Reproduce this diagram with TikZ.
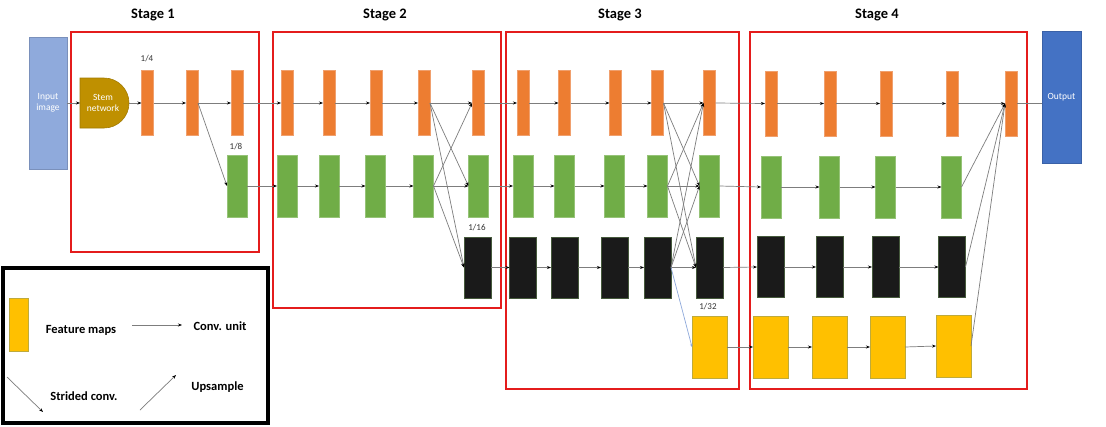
\documentclass[tikz,border=0pt]{standalone}
\usepackage{fontspec}
\setmainfont{Carlito}
\usetikzlibrary{arrows.meta}
\definecolor{orangeC}{RGB}{237,125,49}
\definecolor{orangeD}{RGB}{240,160,110}
\definecolor{greenC}{RGB}{112,173,71}
\definecolor{greenD}{RGB}{150,195,120}
\definecolor{blackC}{RGB}{26,26,26}
\definecolor{blackD}{RGB}{70,90,60}
\definecolor{yellowC}{RGB}{255,192,0}
\definecolor{yellowD}{RGB}{190,170,60}
\definecolor{inputC}{RGB}{143,170,220}
\definecolor{outC}{RGB}{68,114,196}
\definecolor{stemC}{RGB}{191,144,0}
\definecolor{stageR}{RGB}{228,28,28}
\definecolor{lineC}{RGB}{125,125,125}
\definecolor{blueL}{RGB}{142,169,219}
\begin{document}
\begin{tikzpicture}[x=1pt,y=-1pt,
  fmap/.style={inner sep=0pt, outer sep=0pt, line width=0.6pt},
  ob/.style={fmap, fill=orangeC, draw=orangeD, minimum width=12pt, minimum height=65pt},
  gb/.style={fmap, fill=greenC, draw=greenD, minimum width=20pt, minimum height=62pt},
  bb/.style={fmap, fill=blackC, draw=blackD, minimum width=27pt, minimum height=61pt},
  yb/.style={fmap, fill=yellowC, draw=yellowD, minimum width=35pt, minimum height=62pt},
  stagebox/.style={draw=stageR, line width=1.5pt},
  stagetitle/.style={font=\fontsize{14.5}{17}\selectfont\bfseries},
  ratio/.style={font=\fontsize{9}{11}\selectfont, text=black!80},
  conn/.style={draw=lineC, line width=0.7pt, -{Stealth[length=4pt,width=3pt,color=black]}},
  plain/.style={draw=lineC, line width=0.7pt},
  legtext/.style={font=\fontsize{12.5}{15}\selectfont\bfseries},
  whitetext/.style={font=\fontsize{9.5}{11.5}\selectfont, text=white, align=center}
]
\useasboundingbox (0,0) rectangle (1106,426);
\fill[white] (0,0) rectangle (1106,426);

% stage boxes
\draw[stagebox] (71,32) rectangle (259,252);
\draw[stagebox] (273,32) rectangle (501,308);
\draw[stagebox] (506,32) rectangle (739,389);
\draw[stagebox] (750,32) rectangle (1027,389);
\node[stagetitle] (t1) at (153,15) {Stage 1};
\node[stagetitle] (t2) at (385,15) {Stage 2};
\node[stagetitle] (t3) at (620,15) {Stage 3};
\node[stagetitle] (t4) at (877,15) {Stage 4};

% input, stem, output
\node[fmap, fill=inputC, draw=inputC!85!black, minimum width=38pt, minimum height=132pt] (inp) at (48,103) {};
\node[whitetext] (inpt) at (48,103) {Input\\image};
\fill[stemC, draw=stemC!85!black, line width=0.6pt] (80,78) -- (104,78) arc[start angle=-90, end angle=90, radius=25] -- (80,128) -- cycle;
\node[inner sep=0pt, outer sep=0pt, minimum width=49pt, minimum height=50pt] (stem) at (104.5,103) {};
\node[whitetext] (stemt) at (103,103) {Stem\\network};
\node[fmap, fill=outC, draw=outC!85!black, minimum width=39pt, minimum height=132pt] (out) at (1061.5,97) {};
\node[whitetext] (outt) at (1061.5,97) {Output};

% stage 1
\node[ob] (o1a) at (147.5,103) {};
\node[ob] (o1b) at (192,103) {};
\node[ob] (o1c) at (237,103) {};
\node[gb] (g1) at (237,186) {};
\node[ratio] (r4) at (147,59) {1/4};
\node[ratio] (r8) at (236,147) {1/8};

% stage 2
\node[ob] (o2a) at (287,103) {};
\node[ob] (o2b) at (329,103) {};
\node[ob] (o2c) at (376,103) {};
\node[ob] (o2d) at (424,103) {};
\node[ob] (o2e) at (478,103) {};
\node[gb] (g2a) at (287,186) {};
\node[gb] (g2b) at (329,186) {};
\node[gb] (g2c) at (375.5,186) {};
\node[gb] (g2d) at (423.5,186) {};
\node[gb] (g2e) at (478.5,186) {};
\node[bb] (b2) at (477.5,267.5) {};
\node[ratio] (r16) at (477,228) {1/16};

% stage 3
\node[ob] (o3a) at (523,103) {};
\node[ob] (o3b) at (564.5,103) {};
\node[ob] (o3c) at (615.5,103) {};
\node[ob] (o3d) at (657.5,103) {};
\node[ob] (o3e) at (709.5,103) {};
\node[gb] (g3a) at (523,186) {};
\node[gb] (g3b) at (564.5,186) {};
\node[gb] (g3c) at (614.5,186) {};
\node[gb] (g3d) at (657.5,186) {};
\node[gb] (g3e) at (709.5,186) {};
\node[bb] (b3a) at (523,267.5) {};
\node[bb] (b3b) at (564.5,267.5) {};
\node[bb] (b3c) at (614.5,267.5) {};
\node[bb] (b3d) at (657.5,267.5) {};
\node[bb] (b3e) at (709.5,267.5) {};
\node[yb] (y3) at (709.5,347) {};
\node[ratio] (r32) at (708,307) {1/32};

% stage 4
\node[ob] (o4a) at (771,103.5) {};
\node[ob] (o4b) at (830,103.5) {};
\node[ob] (o4c) at (886,103.5) {};
\node[ob] (o4d) at (952,103.5) {};
\node[ob] (o4e) at (1011,103.5) {};
\node[gb] (g4a) at (771,187) {};
\node[gb] (g4b) at (829.5,187) {};
\node[gb] (g4c) at (885.5,187) {};
\node[gb] (g4d) at (951.5,187) {};
\node[bb] (b4a) at (770.5,267) {};
\node[bb] (b4b) at (829.5,267) {};
\node[bb] (b4c) at (885.5,267) {};
\node[bb] (b4d) at (952,267) {};
\node[yb] (y4a) at (770.5,347) {};
\node[yb] (y4b) at (829.5,347) {};
\node[yb] (y4c) at (887.5,347) {};
\node[yb] (y4d) at (953.5,346) {};

% connectors stage 1
\draw[conn] (inp.east) -- (stem.west);
\draw[conn] (stem.east) -- (o1a.west);
\draw[conn] (o1a.east) -- (o1b.west);
\draw[conn] (o1b.east) -- (o1c.west);
\draw[conn] (o1b.east) -- (g1.west);
\draw[conn] (o1c.east) -- (o2a.west);
\draw[conn] (g1.east) -- (g2a.west);

% stage 2
\draw[conn] (o2a.east) -- (o2b.west);
\draw[conn] (o2b.east) -- (o2c.west);
\draw[conn] (o2c.east) -- (o2d.west);
\draw[conn] (o2d.east) -- (o2e.west);
\draw[conn] (g2a.east) -- (g2b.west);
\draw[conn] (g2b.east) -- (g2c.west);
\draw[conn] (g2c.east) -- (g2d.west);
\draw[conn] (g2d.east) -- (g2e.west);
\draw[conn] (o2d.east) -- (g2e.west);
\draw[conn] (o2d.east) -- (b2.west);
\draw[conn] (g2d.east) -- (o2e.west);
\draw[conn] (g2d.east) -- (b2.west);
\draw[conn] (o2e.east) -- (o3a.west);
\draw[conn] (g2e.east) -- (g3a.west);
\draw[conn] (b2.east) -- (b3a.west);

% stage 3
\foreach \r in {o,g,b}{
  \draw[conn] (\r3a.east) -- (\r3b.west);
  \draw[conn] (\r3b.east) -- (\r3c.west);
  \draw[conn] (\r3c.east) -- (\r3d.west);
  \foreach \s in {o,g,b}{
    \draw[conn] (\r3d.east) -- (\s3e.west);
  }
  \draw[conn] (\r3e.east) -- (\r4a.west);
}
\draw[draw=blueL, line width=0.7pt, -{Stealth[length=3pt,width=2.5pt]}] (b3d.east) -- (y3.west);
\draw[conn] (y3.east) -- (y4a.west);

% stage 4
\foreach \r in {o,g,b,y}{
  \draw[conn] (\r4a.east) -- (\r4b.west);
  \draw[conn] (\r4b.east) -- (\r4c.west);
  \draw[conn] (\r4c.east) -- (\r4d.west);
  \draw[conn] (\r4d.east) -- (o4e.west);
}
\draw[plain] (o4e.east) -- (o4e.east -| out.west);

% legend
\draw[line width=3.5pt] (3,268) rectangle (268,423);
\node[fmap, fill=yellowC, draw=yellowD, minimum width=19pt, minimum height=53pt] (sw) at (18.5,324.5) {};
\node[legtext] (lfm) at (81,330) {Feature maps};
\node[legtext] (lcu) at (220,326) {Conv. unit};
\node[legtext] (lsc) at (84,396) {Strided conv.};
\node[legtext] (lup) at (217.5,387) {Upsample};
\coordinate (ca) at (132,325);
\coordinate (cb) at (182,325);
\coordinate (sa) at (7,377);
\coordinate (sb) at (43,412);
\coordinate (ua) at (140,410);
\coordinate (ub) at (176,375);
\draw[conn] (ca) -- (cb);
\draw[conn] (sa) -- (sb);
\draw[conn] (ua) -- (ub);
\end{tikzpicture}
\end{document}
